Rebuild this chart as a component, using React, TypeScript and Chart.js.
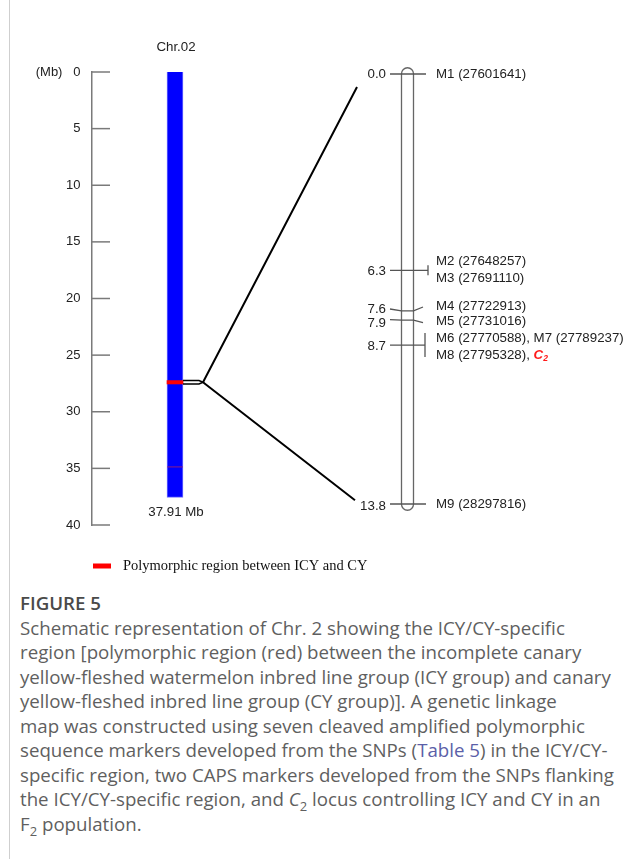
import React, { useEffect, useRef } from 'react';
import { Chart, registerables } from 'chart.js';

Chart.register(...registerables);

// ---------------- data ----------------
const mbTicks = [0, 5, 10, 15, 20, 25, 30, 35, 40];
const mbUnitLabel = '(Mb)';
const chromosomeName = 'Chr.02';
const chromosomeLengthMb = 37.91;
const chromosomeLengthLabel = '37.91 Mb';
const polymorphicRegionMb = [27.6, 27.9];
const minorBandMb = [35.18, 35.26];
const markerCm = [0.0, 6.3, 7.6, 7.9, 8.7, 13.8];
const markerCmLabels = ['0.0', '6.3', '7.6', '7.9', '8.7', '13.8'];
const markerNames = [
  ['M1 (27601641)'],
  ['M2 (27648257)', 'M3 (27691110)'],
  ['M4 (27722913)'],
  ['M5 (27731016)'],
  ['M6 (27770588), M7 (27789237)', 'M8 (27795328), '],
  ['M9 (28297816)'],
];
const locusName = 'C';
const locusSub = '2';
const legendLabel = 'Polymorphic region between ICY and CY';

// ---------------- layout (page px along x) ----------------
const W = 644;
const CH = 590;
const AXIS_X = 92;
const TICK_LEN = 18;
const CHR_X = 175;
const CHR_W = 16;
const CHR_SHIFT_MB = 0.353; // the drawn chromosome sits slightly above the ruler's 0
const JUNCTION_X = 203;
const LG_X = 407.5;
const LG_W = 12;
const LG_TOP_CM = -0.2;
const LG_BOTTOM_CM = 14.0;
const CM_MIN = -0.064;
const CM_MAX = 14.474;
const DIAG_TOP = { x: 357, cm: 0.42 };
const DIAG_BOTTOM = { x: 355, cm: 13.68 };
const LINE_L = 390;
const LEFT_LABEL_X = 386;
const RIGHT_LABEL_X = 436;
const leftLabelDy = [0, 1, -1, 3, 1, 2];
const rightLabelDy = [[0], [-8.6, 8], [-4], [1], [-6.8, 10], [0]];
// marker line shapes: [dyLeftEnd, dyRightEnd, bracketHalf, rightEndX]
const markerShape = [
  [0, 0, 0, 426],
  [0, 0, 5, 428],
  [-1.8, -3.8, 0, 423],
  [-0.5, 2.5, 0, 423],
  [0, 0, 12, 425],
  [0, 0, 0, 426],
];

const SANS = '"Liberation Sans", Arial, sans-serif';
const SERIF = '"Liberation Serif", "Times New Roman", serif';

const schematicPlugin = {
  id: 'schematic',
  afterDatasetsDraw(chart: any) {
    const ctx = chart.ctx as CanvasRenderingContext2D;
    const xs = chart.scales.x;
    const mb = chart.scales.y;
    const chr = chart.scales.chr;
    const cm = chart.scales.cm;
    const px = (v: number) => xs.getPixelForValue(v);
    const pm = (v: number) => mb.getPixelForValue(v);
    const pr = (v: number) => chr.getPixelForValue(v);
    const pc = (v: number) => cm.getPixelForValue(v);
    ctx.save();

    // Mb tick marks (pointing right)
    ctx.strokeStyle = '#7a7a7a';
    ctx.lineWidth = 1.5;
    mbTicks.forEach((t) => {
      const y = pm(t);
      ctx.beginPath();
      ctx.moveTo(px(AXIS_X), y);
      ctx.lineTo(px(AXIS_X + TICK_LEN), y);
      ctx.stroke();
    });

    // titles
    ctx.fillStyle = '#222';
    ctx.font = `13.3px ${SANS}`;
    ctx.textAlign = 'center';
    ctx.textBaseline = 'middle';
    ctx.fillText(chromosomeName, px(CHR_X + 1), pm(0) - 25);
    ctx.fillText(chromosomeLengthLabel, px(CHR_X + 1), pr(chromosomeLengthMb) + 15);

    // connector
    const yTop = pr(polymorphicRegionMb[0]);
    const yBot = pr(polymorphicRegionMb[1]);
    const yMid = (yTop + yBot) / 2;
    ctx.strokeStyle = '#000';
    ctx.lineWidth = 1.6;
    ctx.beginPath();
    ctx.moveTo(px(CHR_X + CHR_W / 2), yTop);
    ctx.lineTo(px(JUNCTION_X - 4), yTop);
    ctx.lineTo(px(JUNCTION_X), yMid);
    ctx.lineTo(px(JUNCTION_X - 4), yBot);
    ctx.lineTo(px(CHR_X + CHR_W / 2), yBot);
    ctx.stroke();
    ctx.lineWidth = 2;
    ctx.beginPath();
    ctx.moveTo(px(DIAG_TOP.x), pc(DIAG_TOP.cm));
    ctx.lineTo(px(JUNCTION_X), yMid);
    ctx.lineTo(px(DIAG_BOTTOM.x), pc(DIAG_BOTTOM.cm));
    ctx.stroke();

    // linkage group outline
    ctx.strokeStyle = '#666';
    ctx.lineWidth = 1.3;
    const lgTop = pc(LG_TOP_CM);
    const lgBot = pc(LG_BOTTOM_CM);
    ctx.beginPath();
    (ctx as any).roundRect(px(LG_X - LG_W / 2), lgTop, LG_W, lgBot - lgTop, LG_W / 2);
    ctx.stroke();

    // marker lines
    ctx.strokeStyle = '#555';
    ctx.lineWidth = 1.3;
    markerCm.forEach((c, i) => {
      const y = pc(c);
      const [dl, dr, bh, rx] = markerShape[i];
      ctx.beginPath();
      if (dl === 0 && dr === 0) {
        ctx.moveTo(px(LINE_L), y);
        ctx.lineTo(px(rx), y);
      } else {
        ctx.moveTo(px(LINE_L), y + dl);
        ctx.lineTo(px(LG_X - LG_W / 2), y);
        ctx.lineTo(px(LG_X + LG_W / 2), y);
        ctx.lineTo(px(rx), y + dr);
      }
      ctx.stroke();
      if (bh > 0) {
        ctx.beginPath();
        ctx.moveTo(px(rx), y - bh);
        ctx.lineTo(px(rx), y + bh);
        ctx.stroke();
      }
    });

    // marker labels
    ctx.textBaseline = 'middle';
    markerCm.forEach((c, i) => {
      const y = pc(c);
      ctx.textAlign = 'right';
      ctx.fillStyle = '#222';
      ctx.font = `13.3px ${SANS}`;
      ctx.fillText(markerCmLabels[i], px(LEFT_LABEL_X), y + leftLabelDy[i]);
      ctx.textAlign = 'left';
      markerNames[i].forEach((name, j) => {
        const ly = y + rightLabelDy[i][j];
        ctx.fillStyle = '#222';
        ctx.font = `13.3px ${SANS}`;
        ctx.fillText(name, px(RIGHT_LABEL_X), ly);
        if (i === 4 && j === 1) {
          const w = ctx.measureText(name).width;
          ctx.fillStyle = '#ff1a1a';
          ctx.font = `italic bold 13.3px ${SANS}`;
          ctx.fillText(locusName, px(RIGHT_LABEL_X) + w, ly);
          const cw = ctx.measureText(locusName).width;
          ctx.font = `italic bold 8.5px ${SANS}`;
          ctx.fillText(locusSub, px(RIGHT_LABEL_X) + w + cw, ly + 4);
        }
      });
    });

    // legend
    const legY = pm(40) + 41;
    ctx.fillStyle = '#ff0000';
    ctx.fillRect(px(93), legY - 2.5, 18, 5);
    ctx.fillStyle = '#111';
    ctx.font = `14.5px ${SERIF}`;
    ctx.textAlign = 'left';
    ctx.textBaseline = 'middle';
    ctx.fillText(legendLabel, px(123), legY);

    ctx.restore();
  },
};

function ChromosomeChart() {
  const ref = useRef<HTMLCanvasElement | null>(null);
  useEffect(() => {
    if (!ref.current) return;
    const chart = new Chart(ref.current, {
      type: 'bar',
      data: {
        datasets: [
          {
            data: [{ x: CHR_X, y: [0, chromosomeLengthMb] }] as any,
            yAxisID: 'chr',
            order: 3,
            backgroundColor: '#0000ff',
            borderColor: '#7070ff',
            borderWidth: 1,
            borderSkipped: false,
            barThickness: CHR_W,
            grouped: false,
          } as any,
          {
            data: [{ x: CHR_X, y: polymorphicRegionMb }] as any,
            yAxisID: 'chr',
            order: 1,
            backgroundColor: '#ff0000',
            borderWidth: 0,
            barThickness: CHR_W,
            grouped: false,
          } as any,
          {
            data: [{ x: CHR_X, y: minorBandMb }] as any,
            yAxisID: 'chr',
            order: 2,
            backgroundColor: 'rgba(150,30,120,0.6)',
            borderWidth: 0,
            barThickness: CHR_W - 1,
            grouped: false,
          } as any,
        ],
      },
      options: {
        responsive: false,
        animation: false,
        devicePixelRatio: 1,
        events: [],
        layout: { padding: { top: 72, bottom: CH - 525, left: 0, right: 0 } },
        plugins: { legend: { display: false }, tooltip: { enabled: false } },
        scales: {
          x: { type: 'linear', axis: 'x', display: false, min: AXIS_X, max: W, offset: false },
          y: {
            type: 'linear',
            axis: 'y',
            position: 'left',
            reverse: true,
            min: 0,
            max: 40,
            afterFit: (s: any) => {
              s.width = AXIS_X;
            },
            afterBuildTicks: (s: any) => {
              s.ticks = mbTicks.map((v) => ({ value: v }));
            },
            ticks: {
              padding: 11.5,
              color: '#222',
              font: { family: SANS, size: 13 },
              callback: (v: any) => (v === 0 ? `${mbUnitLabel}   0` : String(v)),
            },
            grid: { drawOnChartArea: false, drawTicks: false },
            border: { display: true, color: '#7a7a7a', width: 1.5 },
          },
          chr: {
            type: 'linear',
            axis: 'y',
            position: 'right',
            display: false,
            reverse: true,
            min: CHR_SHIFT_MB,
            max: 40 + CHR_SHIFT_MB,
          },
          cm: { type: 'linear', axis: 'y', position: 'right', display: false, reverse: true, min: CM_MIN, max: CM_MAX },
        },
      } as any,
      plugins: [schematicPlugin],
    });
    return () => chart.destroy();
  }, []);
  return (
    <canvas
      ref={ref}
      width={W}
      height={CH}
      style={{ position: 'absolute', left: 0, top: 0, width: W, height: CH, display: 'block' }}
    />
  );
}

const capStyle: React.CSSProperties = { whiteSpace: 'nowrap' };
const subStyle: React.CSSProperties = { fontSize: 13, lineHeight: 0 };

export default function App() {
  return (
    <div style={{ position: 'absolute', left: 0, top: 0, width: W, height: 859, overflow: 'hidden', background: '#fff' }}>
      <div style={{ position: 'absolute', left: 9, top: 0, width: 1, height: 859, background: '#cfcfcf' }} />
      <ChromosomeChart />
      <div
        style={{
          position: 'absolute',
          left: 20,
          top: 591,
          fontFamily: '"Open Sans", sans-serif',
          fontSize: 18.7,
          lineHeight: '24.5px',
          color: '#5f5f5f',
        }}
      >
        <div style={{ ...capStyle, fontWeight: 600, color: '#4a4a4a' }}>FIGURE 5</div>
        <div style={capStyle}>Schematic representation of Chr. 2 showing the ICY/CY-specific</div>
        <div style={capStyle}>region [polymorphic region (red) between the incomplete canary</div>
        <div style={capStyle}>yellow-fleshed watermelon inbred line group (ICY group) and canary</div>
        <div style={capStyle}>yellow-fleshed inbred line group (CY group)]. A genetic linkage</div>
        <div style={capStyle}>map was constructed using seven cleaved amplified polymorphic</div>
        <div style={capStyle}>
          sequence markers developed from the SNPs (<span style={{ color: '#5b5fa8' }}>Table 5</span>) in the ICY/CY-
        </div>
        <div style={capStyle}>specific region, two CAPS markers developed from the SNPs flanking</div>
        <div style={capStyle}>
          the ICY/CY-specific region, and <i>C</i>
          <sub style={subStyle}>2</sub> locus controlling ICY and CY in an
        </div>
        <div style={capStyle}>
          F<sub style={subStyle}>2</sub> population.
        </div>
      </div>
    </div>
  );
}
